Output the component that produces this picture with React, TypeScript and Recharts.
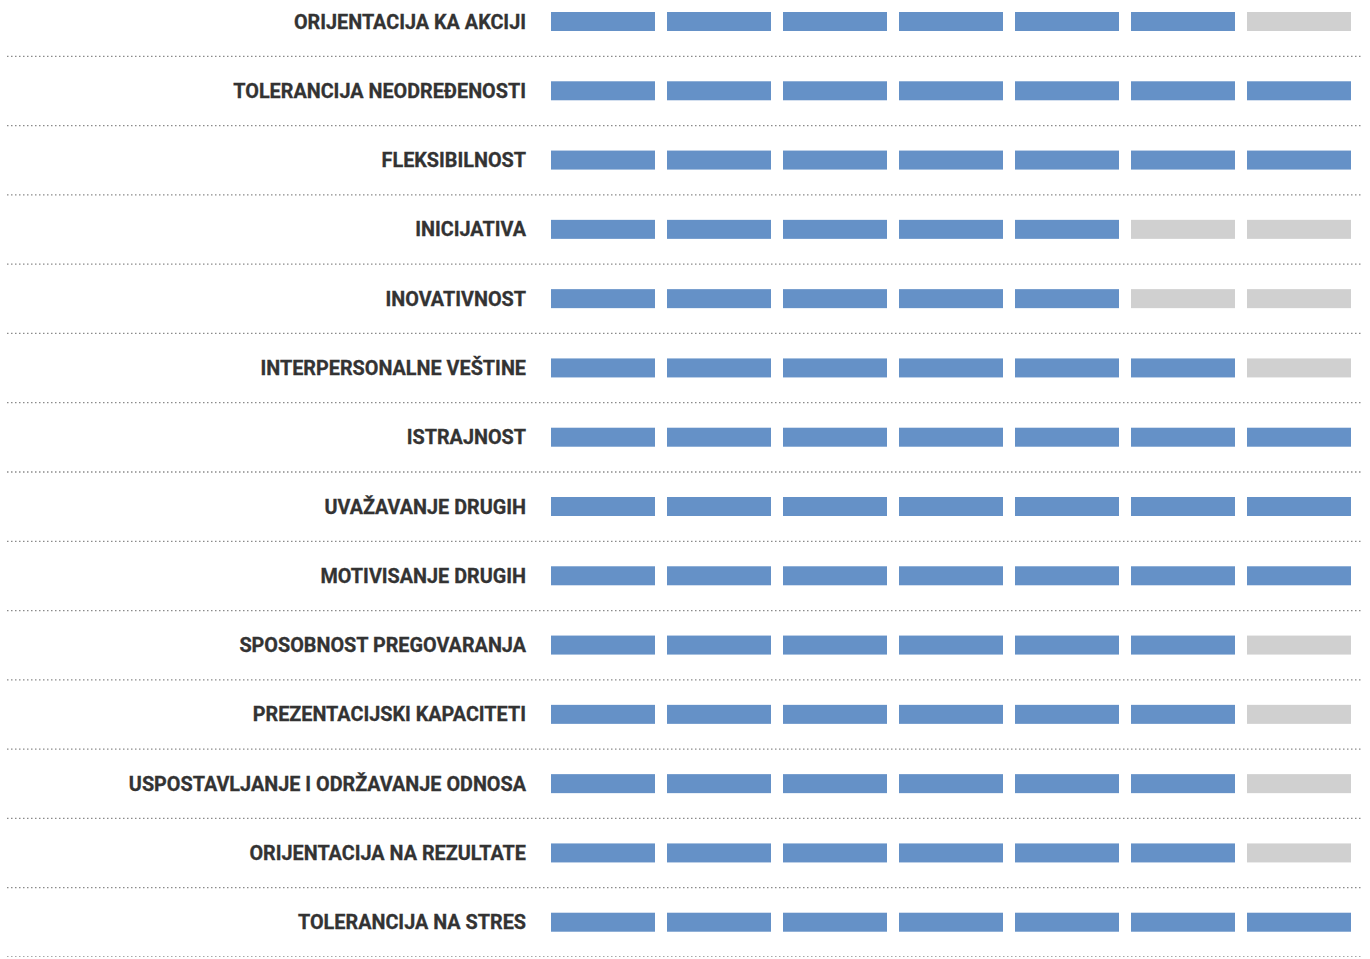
import React from "react";
import { BarChart, Bar, XAxis, YAxis, Cell } from "recharts";

// competency names, top to bottom
const CATEGORIES = [
  "ORIJENTACIJA KA AKCIJI",
  "TOLERANCIJA NEODREĐENOSTI",
  "FLEKSIBILNOST",
  "INICIJATIVA",
  "INOVATIVNOST",
  "INTERPERSONALNE VEŠTINE",
  "ISTRAJNOST",
  "UVAŽAVANJE DRUGIH",
  "MOTIVISANJE DRUGIH",
  "SPOSOBNOST PREGOVARANJA",
  "PREZENTACIJSKI KAPACITETI",
  "USPOSTAVLJANJE I ODRŽAVANJE ODNOSA",
  "ORIJENTACIJA NA REZULTATE",
  "TOLERANCIJA NA STRES",
];

// filled segments out of 7
const SCORES = [6, 7, 7, 5, 5, 6, 7, 7, 7, 6, 6, 6, 6, 7];
const SEGMENTS = [1, 2, 3, 4, 5, 6, 7];

const BLUE = "#6591C7";
const GRAY = "#D0D0D0";
const GAP = 12;

const CHART_H = 970;
const BAND = CHART_H / CATEGORIES.length;

const DATA = CATEGORIES.map((name, i) => {
  const row: Record<string, string | number> = { name, score: SCORES[i] };
  SEGMENTS.forEach((s) => (row[`s${s}`] = 1));
  return row;
});

function Segment(props: any) {
  const { x, y, width, height, fill } = props;
  return <rect x={x} y={y} width={Math.max(width - GAP, 0)} height={height} fill={fill} />;
}

function Tick(props: any) {
  const { y, payload } = props;
  return (
    <g>
      <text
        x={526}
        y={y}
        dy={7}
        textAnchor="end"
        fontFamily="Roboto, 'Noto Sans', sans-serif"
        fontWeight={700}
        fontSize={20}
        fill="#333333"
        stroke="#333333"
        strokeWidth={0.3}
        transform="translate(526 0) scale(0.99 1) translate(-526 0)"
      >
        {payload.value}
      </text>
      <line
        x1={7}
        x2={1362}
        y1={y + BAND / 2}
        y2={y + BAND / 2}
        stroke="#8a8a8a"
        strokeWidth={1.3}
        strokeDasharray="1.5 2.5"
      />
    </g>
  );
}

export default function App() {
  return (
    <div style={{ position: "absolute", left: 0, top: -13 }}>
      <BarChart
        width={1370}
        height={CHART_H}
        data={DATA}
        layout="vertical"
        margin={{ top: 0, right: 7, bottom: 0, left: 0 }}
        barSize={19}
      >
        <XAxis type="number" domain={[0, 7]} hide />
        <YAxis
          type="category"
          dataKey="name"
          width={551}
          axisLine={false}
          tickLine={false}
          tick={<Tick />}
          interval={0}
        />
        {SEGMENTS.map((s) => (
          <Bar
            key={s}
            dataKey={`s${s}`}
            stackId="a"
            isAnimationActive={false}
            shape={<Segment />}
          >
            {SCORES.map((sc, i) => (
              <Cell key={i} fill={s <= sc ? BLUE : GRAY} />
            ))}
          </Bar>
        ))}
      </BarChart>
    </div>
  );
}
